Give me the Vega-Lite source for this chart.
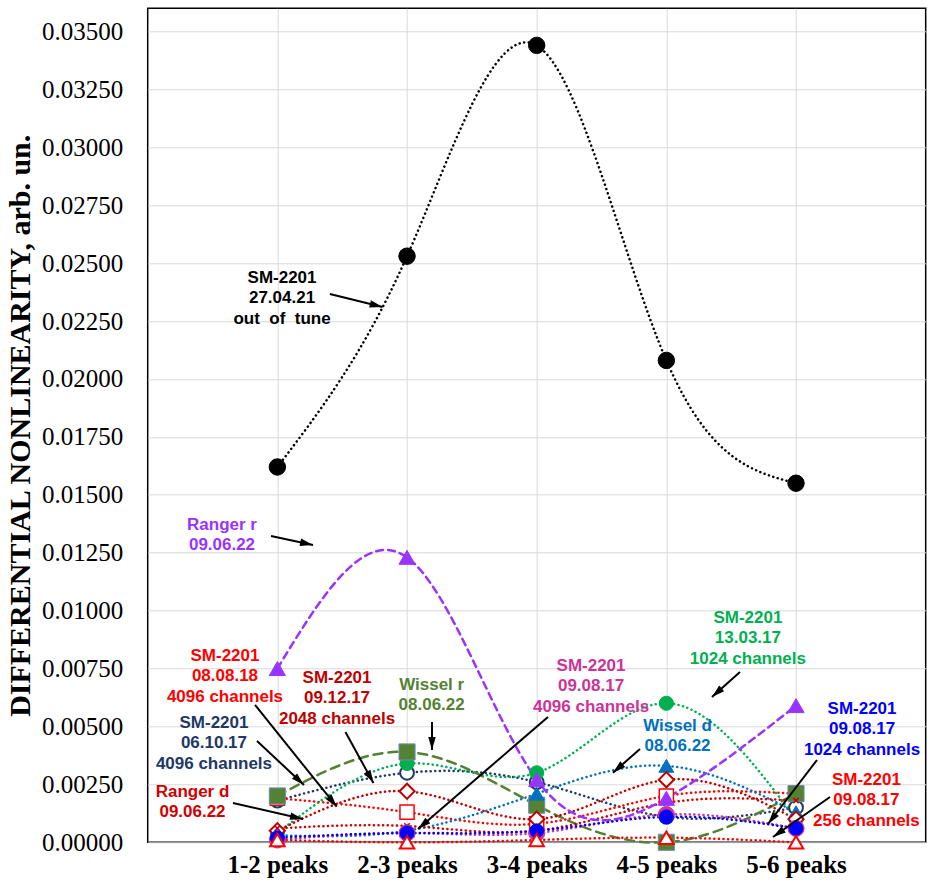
{
  "$schema": "https://vega.github.io/schema/vega-lite/v6.json",
  "width": 778,
  "height": 834,
  "autosize": {"type": "none"},
  "padding": {"left": 147.7, "top": 8.3, "right": 1, "bottom": 40},
  "background": "#ffffff",
  "config": {
    "view": {"stroke": "#000000", "strokeWidth": 1.5},
    "axis": {"gridColor": "#d9d9d9", "gridWidth": 1, "domain": false, "ticks": false}
  },
  "datasets": {
    "series": [
      {"series": "SM-2201 06.10.17 4096", "peaks": "1-2 peaks", "pos": 1, "value": 0.0018},
      {"series": "SM-2201 06.10.17 4096", "peaks": "2-3 peaks", "pos": 2, "value": 0.0030},
      {"series": "SM-2201 06.10.17 4096", "peaks": "3-4 peaks", "pos": 3, "value": 0.0026},
      {"series": "SM-2201 06.10.17 4096", "peaks": "4-5 peaks", "pos": 4, "value": 0.0011},
      {"series": "SM-2201 06.10.17 4096", "peaks": "5-6 peaks", "pos": 5, "value": 0.0015},
      {"series": "SM-2201 08.08.18 4096", "peaks": "1-2 peaks", "pos": 1, "value": 0.0019},
      {"series": "SM-2201 08.08.18 4096", "peaks": "2-3 peaks", "pos": 2, "value": 0.0013},
      {"series": "SM-2201 08.08.18 4096", "peaks": "3-4 peaks", "pos": 3, "value": 0.0008},
      {"series": "SM-2201 08.08.18 4096", "peaks": "4-5 peaks", "pos": 4, "value": 0.0020},
      {"series": "SM-2201 08.08.18 4096", "peaks": "5-6 peaks", "pos": 5, "value": 0.0021},
      {"series": "SM-2201 13.03.17 1024", "peaks": "1-2 peaks", "pos": 1, "value": 0.0004},
      {"series": "SM-2201 13.03.17 1024", "peaks": "2-3 peaks", "pos": 2, "value": 0.0034},
      {"series": "SM-2201 13.03.17 1024", "peaks": "3-4 peaks", "pos": 3, "value": 0.0030},
      {"series": "SM-2201 13.03.17 1024", "peaks": "4-5 peaks", "pos": 4, "value": 0.0060},
      {"series": "SM-2201 13.03.17 1024", "peaks": "5-6 peaks", "pos": 5, "value": 0.0010},
      {"series": "Wissel r 08.06.22", "peaks": "1-2 peaks", "pos": 1, "value": 0.0020},
      {"series": "Wissel r 08.06.22", "peaks": "2-3 peaks", "pos": 2, "value": 0.0039},
      {"series": "Wissel r 08.06.22", "peaks": "3-4 peaks", "pos": 3, "value": 0.0016},
      {"series": "Wissel r 08.06.22", "peaks": "4-5 peaks", "pos": 4, "value": 0.0000},
      {"series": "Wissel r 08.06.22", "peaks": "5-6 peaks", "pos": 5, "value": 0.0021},
      {"series": "Wissel d 08.06.22", "peaks": "1-2 peaks", "pos": 1, "value": 0.0003},
      {"series": "Wissel d 08.06.22", "peaks": "2-3 peaks", "pos": 2, "value": 0.0005},
      {"series": "Wissel d 08.06.22", "peaks": "3-4 peaks", "pos": 3, "value": 0.0021},
      {"series": "Wissel d 08.06.22", "peaks": "4-5 peaks", "pos": 4, "value": 0.0033},
      {"series": "Wissel d 08.06.22", "peaks": "5-6 peaks", "pos": 5, "value": 0.0013},
      {"series": "SM-2201 09.12.17 2048", "peaks": "1-2 peaks", "pos": 1, "value": 0.0005},
      {"series": "SM-2201 09.12.17 2048", "peaks": "2-3 peaks", "pos": 2, "value": 0.0022},
      {"series": "SM-2201 09.12.17 2048", "peaks": "3-4 peaks", "pos": 3, "value": 0.0010},
      {"series": "SM-2201 09.12.17 2048", "peaks": "4-5 peaks", "pos": 4, "value": 0.0027},
      {"series": "SM-2201 09.12.17 2048", "peaks": "5-6 peaks", "pos": 5, "value": 0.0010},
      {"series": "Ranger d 09.06.22", "peaks": "1-2 peaks", "pos": 1, "value": 0.0006},
      {"series": "Ranger d 09.06.22", "peaks": "2-3 peaks", "pos": 2, "value": 0.0007},
      {"series": "Ranger d 09.06.22", "peaks": "3-4 peaks", "pos": 3, "value": 0.0005},
      {"series": "Ranger d 09.06.22", "peaks": "4-5 peaks", "pos": 4, "value": 0.0017},
      {"series": "Ranger d 09.06.22", "peaks": "5-6 peaks", "pos": 5, "value": 0.0018},
      {"series": "SM-2201 09.08.17 4096", "peaks": "1-2 peaks", "pos": 1, "value": 0.0001},
      {"series": "SM-2201 09.08.17 4096", "peaks": "2-3 peaks", "pos": 2, "value": 0.0004},
      {"series": "SM-2201 09.08.17 4096", "peaks": "3-4 peaks", "pos": 3, "value": 0.0004},
      {"series": "SM-2201 09.08.17 4096", "peaks": "4-5 peaks", "pos": 4, "value": 0.0012},
      {"series": "SM-2201 09.08.17 4096", "peaks": "5-6 peaks", "pos": 5, "value": 0.0006},
      {"series": "SM-2201 09.08.17 1024", "peaks": "1-2 peaks", "pos": 1, "value": 0.0002},
      {"series": "SM-2201 09.08.17 1024", "peaks": "2-3 peaks", "pos": 2, "value": 0.0004},
      {"series": "SM-2201 09.08.17 1024", "peaks": "3-4 peaks", "pos": 3, "value": 0.0005},
      {"series": "SM-2201 09.08.17 1024", "peaks": "4-5 peaks", "pos": 4, "value": 0.0011},
      {"series": "SM-2201 09.08.17 1024", "peaks": "5-6 peaks", "pos": 5, "value": 0.0006},
      {"series": "SM-2201 09.08.17 256", "peaks": "1-2 peaks", "pos": 1, "value": 0.0001},
      {"series": "SM-2201 09.08.17 256", "peaks": "2-3 peaks", "pos": 2, "value": 0.0000},
      {"series": "SM-2201 09.08.17 256", "peaks": "3-4 peaks", "pos": 3, "value": 0.0001},
      {"series": "SM-2201 09.08.17 256", "peaks": "4-5 peaks", "pos": 4, "value": 0.0002},
      {"series": "SM-2201 09.08.17 256", "peaks": "5-6 peaks", "pos": 5, "value": 0.0000},
      {"series": "Ranger r 09.06.22", "peaks": "1-2 peaks", "pos": 1, "value": 0.0075},
      {"series": "Ranger r 09.06.22", "peaks": "2-3 peaks", "pos": 2, "value": 0.0123},
      {"series": "Ranger r 09.06.22", "peaks": "3-4 peaks", "pos": 3, "value": 0.0027},
      {"series": "Ranger r 09.06.22", "peaks": "4-5 peaks", "pos": 4, "value": 0.0019},
      {"series": "Ranger r 09.06.22", "peaks": "5-6 peaks", "pos": 5, "value": 0.0059},
      {"series": "SM-2201 27.04.21", "peaks": "1-2 peaks", "pos": 1, "value": 0.0162},
      {"series": "SM-2201 27.04.21", "peaks": "2-3 peaks", "pos": 2, "value": 0.0253},
      {"series": "SM-2201 27.04.21", "peaks": "3-4 peaks", "pos": 3, "value": 0.0344},
      {"series": "SM-2201 27.04.21", "peaks": "4-5 peaks", "pos": 4, "value": 0.0208},
      {"series": "SM-2201 27.04.21", "peaks": "5-6 peaks", "pos": 5, "value": 0.0155}
    ],
    "notes": [
      {"series": "SM-2201 27.04.21", "x": 1.036, "y": 0.024358, "text": "SM-2201\n27.04.21\nout \u00a0of \u00a0tune"},
      {"series": "Ranger r 09.06.22", "x": 0.573, "y": 0.013696, "text": "Ranger r\n09.06.22"},
      {"series": "SM-2201 08.08.18 4096", "x": 0.596, "y": 0.008042, "text": "SM-2201\n08.08.18\n4096 channels"},
      {"series": "SM-2201 06.10.17 4096", "x": 0.511, "y": 0.00515, "text": "SM-2201\n06.10.17\n4096 channels"},
      {"series": "Ranger d 09.06.22", "x": 0.3455, "y": 0.002171, "text": "Ranger d\n09.06.22"},
      {"series": "SM-2201 09.12.17 2048", "x": 1.46, "y": 0.007092, "text": "SM-2201\n09.12.17\n2048 channels"},
      {"series": "Wissel r 08.06.22", "x": 2.19, "y": 0.00679, "text": "Wissel r\n08.06.22"},
      {"series": "SM-2201 09.08.17 4096", "x": 3.419, "y": 0.00761, "text": "SM-2201\n09.08.17\n4096 channels"},
      {"series": "SM-2201 13.03.17 1024", "x": 4.629, "y": 0.009682, "text": "SM-2201\n13.03.17\n1024 channels"},
      {"series": "Wissel d 08.06.22", "x": 4.086, "y": 0.005033, "text": "Wissel d\n08.06.22"},
      {"series": "SM-2201 09.08.17 1024", "x": 5.509, "y": 0.005754, "text": "SM-2201\n09.08.17\n1024 channels"},
      {"series": "SM-2201 09.08.17 256", "x": 5.543, "y": 0.002689, "text": "SM-2201\n09.08.17\n256 channels"}
    ],
    "arrows": [
      {"x1": 1.405, "y1": 0.023667, "x2": 1.812, "y2": 0.023106},
      {"x1": 0.951, "y1": 0.013221, "x2": 1.275, "y2": 0.012833},
      {"x1": 0.8277, "y1": 0.005927, "x2": 1.4576, "y2": 0.001537},
      {"x1": 0.8429, "y1": 0.004373, "x2": 1.2054, "y2": 0.002473},
      {"x1": 0.6578, "y1": 0.001696, "x2": 1.1977, "y2": 0.001006},
      {"x1": 1.525, "y1": 0.004761, "x2": 1.7409, "y2": 0.00256},
      {"x1": 2.1925, "y1": 0.005193, "x2": 2.1925, "y2": 0.003984},
      {"x1": 3.0871, "y1": 0.005409, "x2": 2.0846, "y2": 0.000574},
      {"x1": 4.5677, "y1": 0.007351, "x2": 4.3518, "y2": 0.006272},
      {"x1": 3.7966, "y1": 0.004027, "x2": 3.5883, "y2": 0.003004},
      {"x1": 5.1617, "y1": 0.003553, "x2": 4.7838, "y2": 0.00079},
      {"x1": 5.262, "y1": 0.001955, "x2": 4.8224, "y2": 0.000229}
    ]
  },
  "layer": [
    {
      "data": {"name": "series"},
      "mark": {"type": "line", "interpolate": "natural", "strokeWidth": 2.5, "strokeCap": "round", "clip": false},
      "encoding": {
        "x": {
          "field": "pos", "type": "quantitative",
          "scale": {"domain": [0, 6], "nice": false, "zero": false},
          "axis": {
            "values": [1, 2, 3, 4, 5],
            "labelExpr": "['','1-2 peaks','2-3 peaks','3-4 peaks','4-5 peaks','5-6 peaks'][datum.value]",
            "labelFont": "Liberation Serif", "labelFontWeight": "bold", "labelFontSize": 25,
            "labelColor": "#000000", "labelPadding": 10, "grid": true, "title": null
          }
        },
        "y": {
          "field": "value", "type": "quantitative",
          "scale": {"domain": [0, 0.036], "nice": false},
          "axis": {
            "values": [0, 0.0025, 0.005, 0.0075, 0.01, 0.0125, 0.015, 0.0175, 0.02, 0.0225, 0.025, 0.0275, 0.03, 0.0325, 0.035],
            "format": ".5f",
            "labelFont": "Liberation Serif", "labelFontSize": 25, "labelFontWeight": "normal", "labelColor": "#000000", "labelPadding": 25,
            "grid": true,
            "title": "DIFFERENTIAL NONLINEARITY, arb. un.",
            "titleFont": "Liberation Serif", "titleFontSize": 30, "titleFontWeight": "bold", "titleColor": "#000000",
            "titlePadding": 6
          }
        },
        "color": {
          "field": "series", "type": "nominal", "legend": null,
          "scale": {
            "domain": ["SM-2201 06.10.17 4096", "SM-2201 08.08.18 4096", "SM-2201 13.03.17 1024", "Wissel r 08.06.22", "Wissel d 08.06.22", "SM-2201 09.12.17 2048", "Ranger d 09.06.22", "SM-2201 09.08.17 4096", "SM-2201 09.08.17 1024", "SM-2201 09.08.17 256", "Ranger r 09.06.22", "SM-2201 27.04.21"],
            "range": ["#203864", "#FF0000", "#00B050", "#548235", "#0070C0", "#C00000", "#D00000", "#CC3399", "#0000FF", "#FF0000", "#9933FF", "#000000"]
          }
        },
        "strokeDash": {
          "field": "series", "type": "nominal", "legend": null,
          "scale": {
            "domain": ["SM-2201 06.10.17 4096", "SM-2201 08.08.18 4096", "SM-2201 13.03.17 1024", "Wissel r 08.06.22", "Wissel d 08.06.22", "SM-2201 09.12.17 2048", "Ranger d 09.06.22", "SM-2201 09.08.17 4096", "SM-2201 09.08.17 1024", "SM-2201 09.08.17 256", "Ranger r 09.06.22", "SM-2201 27.04.21"],
            "range": [[0.1, 4.5], [0.1, 4.5], [0.1, 4.5], [9, 6], [0.1, 4.5], [0.1, 4.5], [0.1, 4.5], [0.1, 4.5], [0.1, 4.5], [0.1, 4.5], [7, 5], [0.1, 4.5]]
          }
        }
      }
    },
    {
      "data": {"name": "series"},
      "mark": {"type": "point", "filled": true, "opacity": 1, "clip": false},
      "encoding": {
        "x": {
          "field": "pos", "type": "quantitative",
          "scale": {"domain": [0, 6], "nice": false, "zero": false},
          "axis": {
            "values": [1, 2, 3, 4, 5],
            "labelExpr": "['','1-2 peaks','2-3 peaks','3-4 peaks','4-5 peaks','5-6 peaks'][datum.value]",
            "labelFont": "Liberation Serif", "labelFontWeight": "bold", "labelFontSize": 25,
            "labelColor": "#000000", "labelPadding": 10, "grid": true, "title": null
          }
        },
        "y": {
          "field": "value", "type": "quantitative",
          "scale": {"domain": [0, 0.036], "nice": false},
          "axis": {
            "values": [0, 0.0025, 0.005, 0.0075, 0.01, 0.0125, 0.015, 0.0175, 0.02, 0.0225, 0.025, 0.0275, 0.03, 0.0325, 0.035],
            "format": ".5f",
            "labelFont": "Liberation Serif", "labelFontSize": 25, "labelFontWeight": "normal", "labelColor": "#000000", "labelPadding": 25,
            "grid": true,
            "title": "DIFFERENTIAL NONLINEARITY, arb. un.",
            "titleFont": "Liberation Serif", "titleFontSize": 30, "titleFontWeight": "bold", "titleColor": "#000000",
            "titlePadding": 6
          }
        },
        "shape": {
          "field": "series", "type": "nominal", "legend": null,
          "scale": {
            "domain": ["SM-2201 06.10.17 4096", "SM-2201 08.08.18 4096", "SM-2201 13.03.17 1024", "Wissel r 08.06.22", "Wissel d 08.06.22", "SM-2201 09.12.17 2048", "Ranger d 09.06.22", "SM-2201 09.08.17 4096", "SM-2201 09.08.17 1024", "SM-2201 09.08.17 256", "Ranger r 09.06.22", "SM-2201 27.04.21"],
            "range": ["circle", "square", "circle", "square", "triangle-up", "diamond", "M-1,-1L1,1M1,-1L-1,1", "circle", "circle", "triangle-up", "triangle-up", "circle"]
          }
        },
        "fill": {
          "field": "series", "type": "nominal", "legend": null,
          "scale": {
            "domain": ["SM-2201 06.10.17 4096", "SM-2201 08.08.18 4096", "SM-2201 13.03.17 1024", "Wissel r 08.06.22", "Wissel d 08.06.22", "SM-2201 09.12.17 2048", "Ranger d 09.06.22", "SM-2201 09.08.17 4096", "SM-2201 09.08.17 1024", "SM-2201 09.08.17 256", "Ranger r 09.06.22", "SM-2201 27.04.21"],
            "range": ["#ffffff", "#ffffff", "#00B050", "#548235", "#0070C0", "#ffffff", "#C00000", "#CC3399", "#0000FF", "#ffffff", "#9933FF", "#000000"]
          }
        },
        "stroke": {
          "field": "series", "type": "nominal", "legend": null,
          "scale": {
            "domain": ["SM-2201 06.10.17 4096", "SM-2201 08.08.18 4096", "SM-2201 13.03.17 1024", "Wissel r 08.06.22", "Wissel d 08.06.22", "SM-2201 09.12.17 2048", "Ranger d 09.06.22", "SM-2201 09.08.17 4096", "SM-2201 09.08.17 1024", "SM-2201 09.08.17 256", "Ranger r 09.06.22", "SM-2201 27.04.21"],
            "range": ["#203864", "#FF0000", "#00B050", "#6d8fb5", "#0070C0", "#C00000", "#C00000", "#CC3399", "#0000FF", "#FF0000", "#9933FF", "#000000"]
          }
        },
        "size": {
          "field": "series", "type": "nominal", "legend": null,
          "scale": {
            "type": "ordinal",
            "domain": ["SM-2201 06.10.17 4096", "SM-2201 08.08.18 4096", "SM-2201 13.03.17 1024", "Wissel r 08.06.22", "Wissel d 08.06.22", "SM-2201 09.12.17 2048", "Ranger d 09.06.22", "SM-2201 09.08.17 4096", "SM-2201 09.08.17 1024", "SM-2201 09.08.17 256", "Ranger r 09.06.22", "SM-2201 27.04.21"],
            "range": [190, 200, 200, 260, 220, 230, 30, 260, 190, 210, 260, 270]
          }
        },
        "strokeWidth": {
          "field": "series", "type": "nominal", "legend": null,
          "scale": {
            "type": "ordinal",
            "domain": ["SM-2201 06.10.17 4096", "SM-2201 08.08.18 4096", "SM-2201 13.03.17 1024", "Wissel r 08.06.22", "Wissel d 08.06.22", "SM-2201 09.12.17 2048", "Ranger d 09.06.22", "SM-2201 09.08.17 4096", "SM-2201 09.08.17 1024", "SM-2201 09.08.17 256", "Ranger r 09.06.22", "SM-2201 27.04.21"],
            "range": [2, 1.5, 1, 1, 1, 2, 1.5, 1, 1, 2, 1, 1]
          }
        }
      }
    },
    {
      "data": {"name": "arrows"},
      "mark": {"type": "rule", "strokeWidth": 2, "color": "#000000", "clip": false},
      "encoding": {
        "x": {
          "field": "x1", "type": "quantitative",
          "scale": {"domain": [0, 6], "nice": false, "zero": false},
          "axis": {
            "values": [1, 2, 3, 4, 5],
            "labelExpr": "['','1-2 peaks','2-3 peaks','3-4 peaks','4-5 peaks','5-6 peaks'][datum.value]",
            "labelFont": "Liberation Serif", "labelFontWeight": "bold", "labelFontSize": 25,
            "labelColor": "#000000", "labelPadding": 10, "grid": true, "title": null
          }
        },
        "y": {
          "field": "y1", "type": "quantitative",
          "scale": {"domain": [0, 0.036], "nice": false},
          "axis": {
            "values": [0, 0.0025, 0.005, 0.0075, 0.01, 0.0125, 0.015, 0.0175, 0.02, 0.0225, 0.025, 0.0275, 0.03, 0.0325, 0.035],
            "format": ".5f",
            "labelFont": "Liberation Serif", "labelFontSize": 25, "labelFontWeight": "normal", "labelColor": "#000000", "labelPadding": 25,
            "grid": true,
            "title": "DIFFERENTIAL NONLINEARITY, arb. un.",
            "titleFont": "Liberation Serif", "titleFontSize": 30, "titleFontWeight": "bold", "titleColor": "#000000",
            "titlePadding": 6
          }
        },
        "x2": {"field": "x2"},
        "y2": {"field": "y2"}
      }
    },
    {
      "data": {"name": "arrows"},
      "transform": [
        {"calculate": "atan2((datum.x2 - datum.x1) * 129.67, (datum.y2 - datum.y1) * 23166.7) * 180 / PI", "as": "ang"}
      ],
      "mark": {"type": "point", "shape": "M0,0L-0.75,2.6L0.75,2.6Z", "filled": true, "size": 100, "color": "#000000", "opacity": 1, "strokeWidth": 0, "clip": false},
      "encoding": {
        "x": {
          "field": "x2", "type": "quantitative",
          "scale": {"domain": [0, 6], "nice": false, "zero": false},
          "axis": {
            "values": [1, 2, 3, 4, 5],
            "labelExpr": "['','1-2 peaks','2-3 peaks','3-4 peaks','4-5 peaks','5-6 peaks'][datum.value]",
            "labelFont": "Liberation Serif", "labelFontWeight": "bold", "labelFontSize": 25,
            "labelColor": "#000000", "labelPadding": 10, "grid": true, "title": null
          }
        },
        "y": {
          "field": "y2", "type": "quantitative",
          "scale": {"domain": [0, 0.036], "nice": false},
          "axis": {
            "values": [0, 0.0025, 0.005, 0.0075, 0.01, 0.0125, 0.015, 0.0175, 0.02, 0.0225, 0.025, 0.0275, 0.03, 0.0325, 0.035],
            "format": ".5f",
            "labelFont": "Liberation Serif", "labelFontSize": 25, "labelFontWeight": "normal", "labelColor": "#000000", "labelPadding": 25,
            "grid": true,
            "title": "DIFFERENTIAL NONLINEARITY, arb. un.",
            "titleFont": "Liberation Serif", "titleFontSize": 30, "titleFontWeight": "bold", "titleColor": "#000000",
            "titlePadding": 6
          }
        },
        "angle": {"field": "ang", "type": "quantitative", "scale": null}
      }
    },
    {
      "data": {"name": "notes"},
      "mark": {"type": "text", "align": "center", "baseline": "middle", "font": "Liberation Sans", "fontWeight": "bold", "fontSize": 17, "lineHeight": 20.5, "lineBreak": "\n", "clip": false},
      "encoding": {
        "x": {
          "field": "x", "type": "quantitative",
          "scale": {"domain": [0, 6], "nice": false, "zero": false},
          "axis": {
            "values": [1, 2, 3, 4, 5],
            "labelExpr": "['','1-2 peaks','2-3 peaks','3-4 peaks','4-5 peaks','5-6 peaks'][datum.value]",
            "labelFont": "Liberation Serif", "labelFontWeight": "bold", "labelFontSize": 25,
            "labelColor": "#000000", "labelPadding": 10, "grid": true, "title": null
          }
        },
        "y": {
          "field": "y", "type": "quantitative",
          "scale": {"domain": [0, 0.036], "nice": false},
          "axis": {
            "values": [0, 0.0025, 0.005, 0.0075, 0.01, 0.0125, 0.015, 0.0175, 0.02, 0.0225, 0.025, 0.0275, 0.03, 0.0325, 0.035],
            "format": ".5f",
            "labelFont": "Liberation Serif", "labelFontSize": 25, "labelFontWeight": "normal", "labelColor": "#000000", "labelPadding": 25,
            "grid": true,
            "title": "DIFFERENTIAL NONLINEARITY, arb. un.",
            "titleFont": "Liberation Serif", "titleFontSize": 30, "titleFontWeight": "bold", "titleColor": "#000000",
            "titlePadding": 6
          }
        },
        "text": {"field": "text"},
        "color": {"field": "series", "type": "nominal", "legend": null}
      }
    }
  ]
}
